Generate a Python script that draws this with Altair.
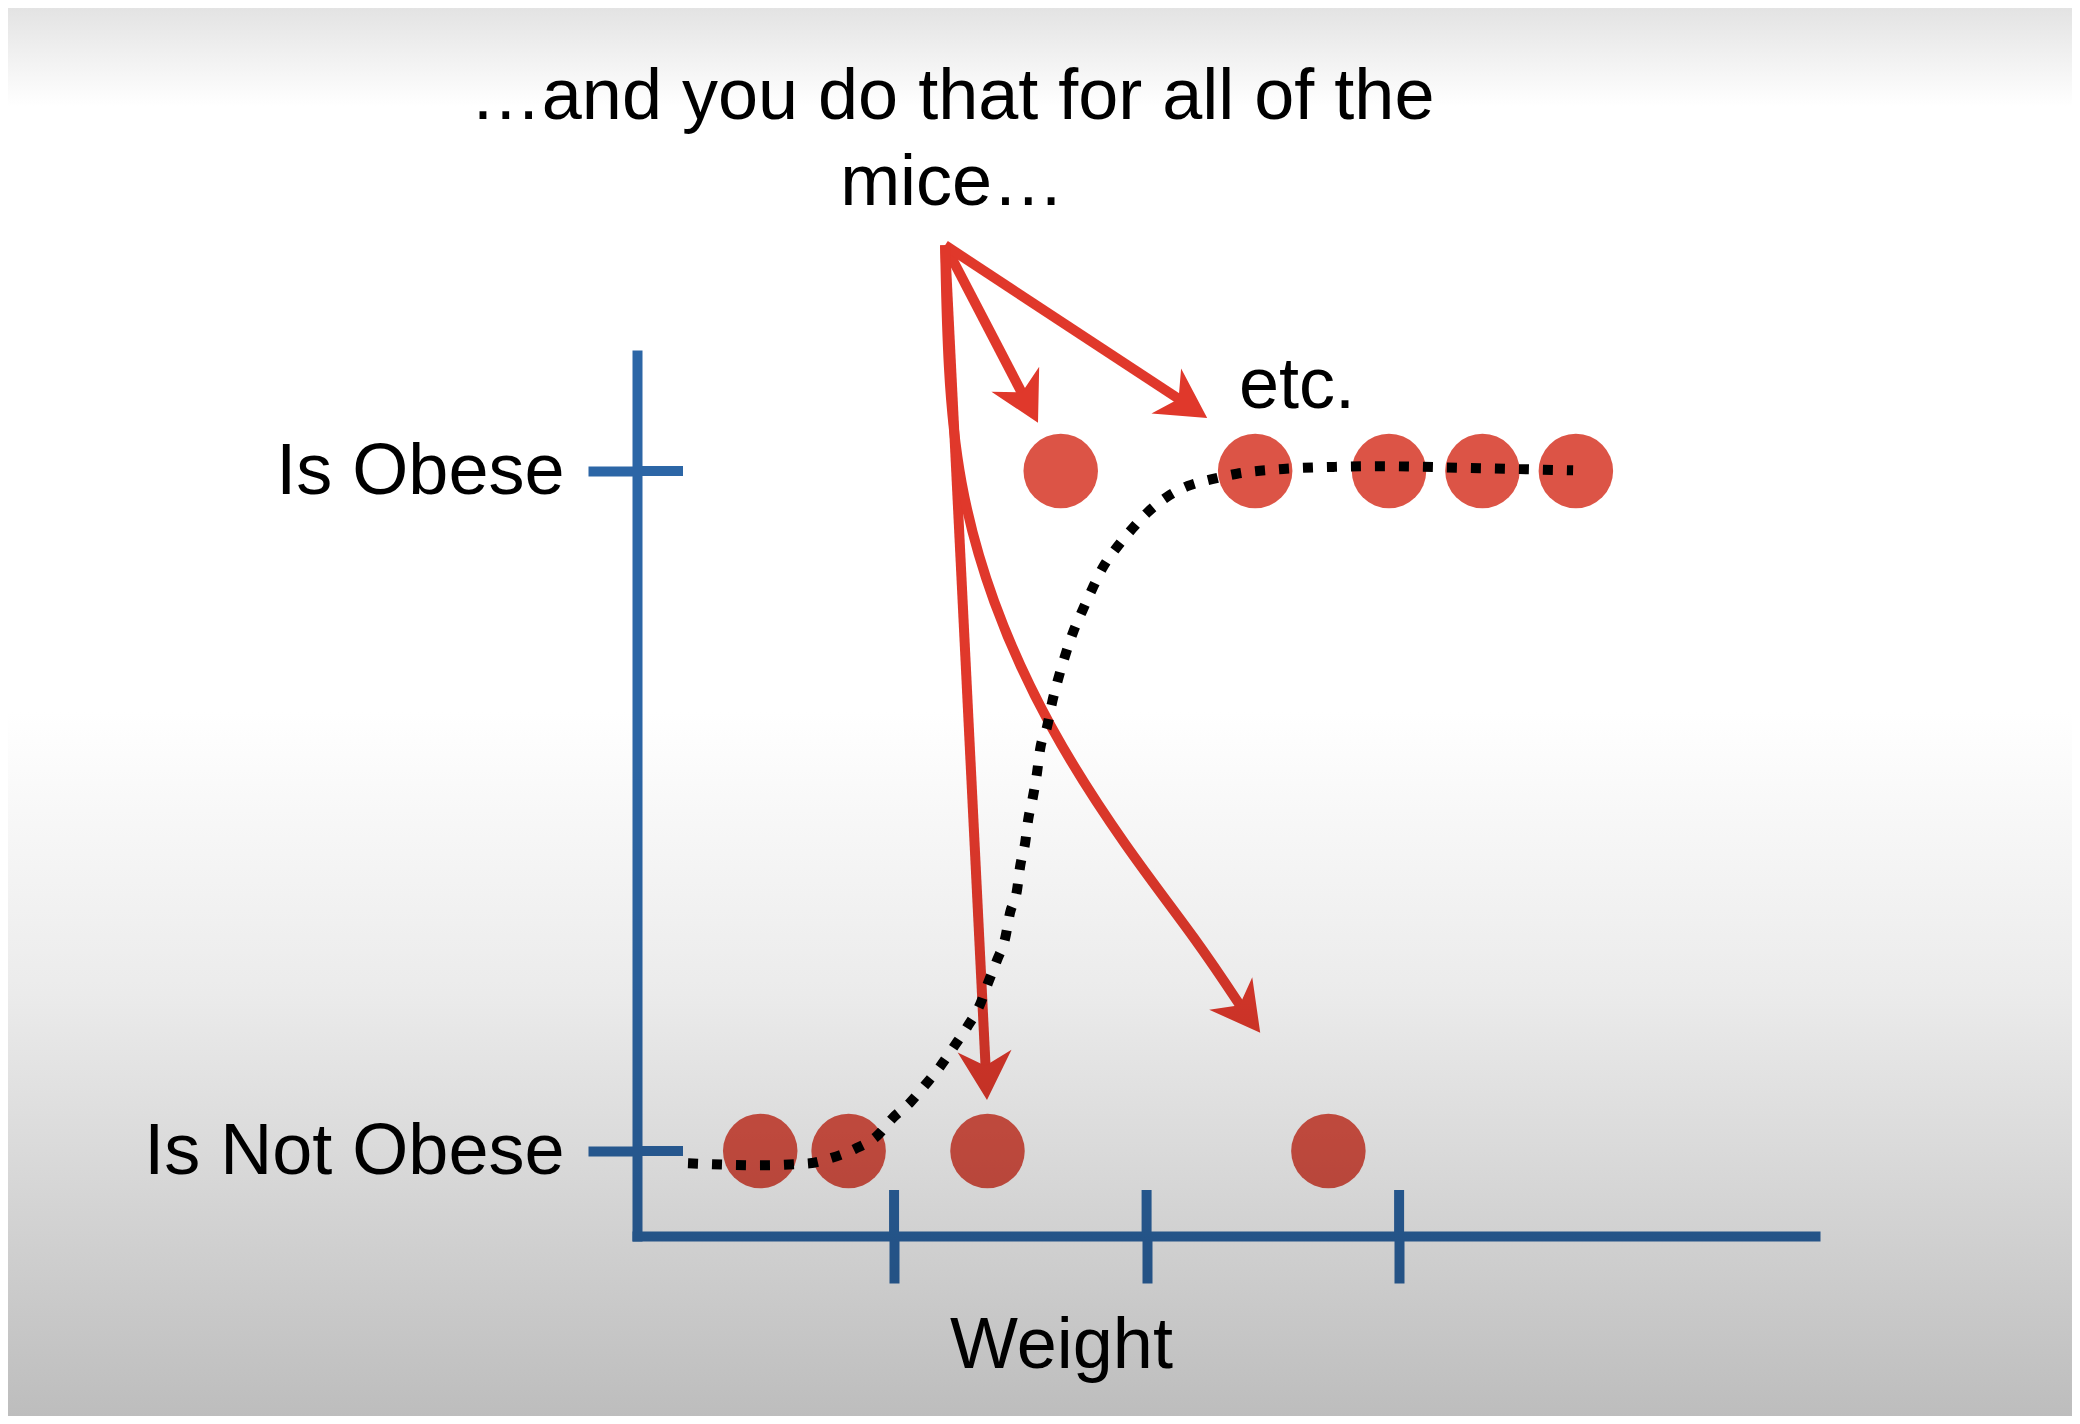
import altair as alt
import pandas as pd

# ---------------- data (x: weight units, y: 0 = not obese, 1 = obese) ----------------
top_weights = [1.66, 2.43, 2.96, 3.33, 3.70]
bottom_weights = [0.47, 0.82, 1.37, 2.72]

curve_x = [0.184, 0.469, 0.667, 0.754, 0.845, 0.932, 0.996, 1.063, 1.123, 1.182,
           1.238, 1.289, 1.341, 1.372, 1.408, 1.440, 1.459, 1.487, 1.499, 1.519,
           1.531, 1.550, 1.566, 1.578, 1.606, 1.626, 1.649, 1.677, 1.709, 1.745,
           1.784, 1.828, 1.883, 1.943, 2.006, 2.081, 2.164, 2.259, 2.358, 2.541,
           2.739, 2.925, 3.321, 3.689]
curve_y = [-0.018, -0.021, -0.018, -0.010, 0.003, 0.022, 0.049, 0.071, 0.097, 0.124,
           0.154, 0.182, 0.216, 0.247, 0.281, 0.313, 0.350, 0.384, 0.418, 0.453,
           0.487, 0.521, 0.556, 0.590, 0.624, 0.660, 0.693, 0.728, 0.763, 0.794,
           0.826, 0.859, 0.888, 0.915, 0.940, 0.962, 0.978, 0.988, 0.996, 1.003,
           1.006, 1.007, 1.004, 1.001]

x_ticks = [1, 2, 3]
y_ticks = [0, 1]
y_tick_labels = ["Is Not Obese", "Is Obese"]
x_title = "Weight"

arrow_id = [1, 1, 2, 2, 3, 3, 4, 4, 4, 4, 4, 4, 4, 4]
arrow_step = [0, 1, 0, 1, 0, 1, 0, 1, 2, 3, 4, 5, 6, 7]
arrow_x = [1.202, 1.523, 1.202, 2.156, 1.202, 1.364,
           1.202, 1.212, 1.253, 1.380, 1.606, 1.923, 2.200, 2.390]
arrow_y = [1.332, 1.103, 1.332, 1.099, 1.332, 0.112,
           1.332, 1.150, 0.985, 0.810, 0.624, 0.443, 0.310, 0.203]

head_x = [1.570, 2.240, 1.368, 2.450]
head_y = [1.071, 1.078, 0.075, 0.174]
head_angle = [152.4, 123.4, 177.2, 143.0]

title_lines = "\u2026and you do that for all of the\nmice\u2026"
etc_label = "etc."

# ---------------- tables ----------------
dots = pd.DataFrame({
    "x": top_weights + bottom_weights,
    "y": [1] * len(top_weights) + [0] * len(bottom_weights),
})
curve = pd.DataFrame({"x": curve_x, "y": curve_y})
arrows = pd.DataFrame({"id": arrow_id, "step": arrow_step, "x": arrow_x, "y": arrow_y})
heads = pd.DataFrame({"x": head_x, "y": head_y, "angle": head_angle})
xt = pd.DataFrame({"x": x_ticks})
yt = pd.DataFrame({"y": y_ticks})
notes = pd.DataFrame({"x": [1.23, 2.596], "y": [1.518, 1.093], "label": [title_lines, etc_label]})
bg = pd.DataFrame({"x": [0]})

FONT = "Liberation Sans"
BLUE = "#2c66a6"
RED_DOT = "#dc5446"
RED_ARROW = "#e0382b"

W, H = 1178, 881
PAD = {"left": 629, "top": 347, "right": 257, "bottom": 180}

label_expr = (f"datum.value == {y_ticks[1]} ? '{y_tick_labels[1]}' : '{y_tick_labels[0]}'")

X = alt.X("x:Q",
          scale=alt.Scale(domain=[-0.018, 4.647], nice=False, zero=False),
          axis=alt.Axis(values=x_ticks, labels=False, grid=False,
                        domainColor=BLUE, domainWidth=10, domainCap="square",
                        tickColor=BLUE, tickWidth=10, tickSize=47, tickCap="butt",
                        title=x_title, titleFont=FONT, titleFontSize=72,
                        titleFontWeight="normal", titleColor="black",
                        titleX=424, titleY=131, titleBaseline="alphabetic",
                        titleAlign="center", titleAngle=0, titleLimit=0))
Y = alt.Y("y:Q",
          scale=alt.Scale(domain=[-0.125, 1.1706], nice=False, zero=False),
          axis=alt.Axis(values=y_ticks, labelExpr=label_expr, grid=False,
                        domainColor=BLUE, domainWidth=10, domainCap="square",
                        tickColor=BLUE, tickWidth=10, tickSize=49, tickCap="butt",
                        labelPadding=24, labelFont=FONT, labelFontSize=72,
                        labelLimit=0, labelColor="black", labelBaseline="middle",
                        title=None))

dots_layer = alt.Chart(dots).mark_circle(size=5550, opacity=1, color=RED_DOT).encode(x=X, y=Y)

x_inner = alt.Chart(xt).mark_rule(color=BLUE, strokeWidth=10, strokeCap="butt").encode(
    x=X, y=alt.value(H), y2=alt.value(H - 46))
y_inner = alt.Chart(yt).mark_rule(color=BLUE, strokeWidth=10, strokeCap="butt").encode(
    y=Y, x=alt.value(0), x2=alt.value(46))

arrow_lines = alt.Chart(arrows).mark_line(color=RED_ARROW, strokeWidth=10,
                                          interpolate="basis", strokeCap="butt").encode(
    x=X, y=Y, detail="id:N", order="step:Q")

head_path = "M0,0 L-1.1,2 L0,1.4 L1.1,2 Z"
arrow_heads = alt.Chart(heads).mark_point(shape=head_path, filled=True, fill=RED_ARROW,
                                          opacity=1, size=2400, strokeWidth=0).encode(
    x=X, y=Y, angle=alt.Angle("angle:Q", scale=None))

curve_layer = alt.Chart(curve).mark_line(color="black", strokeWidth=10, strokeDash=[10, 14],
                                         strokeCap="butt", interpolate="monotone").encode(x=X, y=Y)

text_layer = alt.Chart(notes).mark_text(font=FONT, fontSize=72, color="black", align="center",
                                        baseline="alphabetic", lineBreak="\n",
                                        lineHeight=86).encode(x=X, y=Y, text="label:N")

grad = alt.LinearGradient(
    gradient="linear",
    stops=[alt.GradientStop(color="#e3e3e3", offset=0),
           alt.GradientStop(color="#ffffff", offset=0.07),
           alt.GradientStop(color="#ffffff", offset=0.5),
           alt.GradientStop(color="#ebebeb", offset=0.7),
           alt.GradientStop(color="#bdbdbd", offset=1)],
    x1=0, x2=0, y1=0, y2=1)
overlay = alt.Chart(bg).mark_rect(fill=grad, blend="multiply").encode(
    x=alt.value(-PAD["left"]), x2=alt.value(W + PAD["right"]),
    y=alt.value(-PAD["top"]), y2=alt.value(H + PAD["bottom"]))

chart = alt.layer(
    dots_layer, x_inner, y_inner, arrow_lines, arrow_heads, curve_layer, text_layer, overlay
).properties(
    width=W, height=H, padding=PAD,
    autosize=alt.AutoSizeParams(type="none"),
    background="white",
).configure_view(strokeWidth=0)

chart.save("out.html", embed_options={"renderer": "svg", "actions": False})
